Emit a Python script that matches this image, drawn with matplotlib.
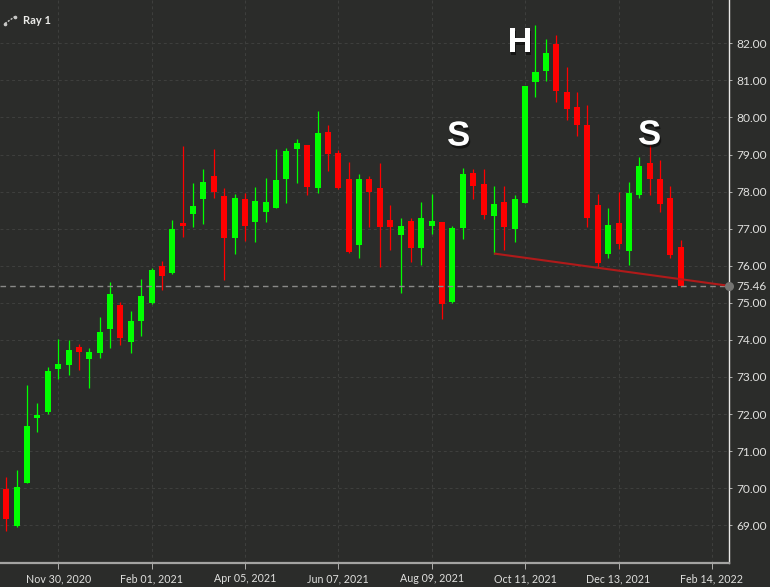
#!/usr/bin/env python3
"""Weekly candlestick chart with a head and shoulders ray."""

import matplotlib
matplotlib.use("Agg")
import matplotlib.patheffects as pe
import matplotlib.pyplot as plt
import numpy as np

BG = "#2b2c2a"
GRID = "#3f403e"
UP = "#00ff00"
DOWN = "#ff0000"
TEXT = "#e0e0de"

opens = [69.97, 68.97, 70.15, 71.89, 72.06, 73.21, 73.33, 73.80, 73.49, 73.65,
         74.28, 74.95, 73.95, 74.50, 74.99, 76.00, 75.80, 77.13, 77.39, 77.79,
         78.42, 77.88, 76.75, 77.80, 77.18, 77.46, 77.55, 78.33, 79.16, 79.26,
         78.09, 79.61, 79.03, 78.33, 76.55, 78.33, 78.09, 77.23, 76.82, 77.20,
         76.49, 77.06, 77.17, 75.01, 77.01, 78.50, 78.21, 77.33, 77.73, 76.99,
         77.68, 80.97, 81.25, 81.99, 80.68, 80.28, 79.80, 77.63, 76.32, 77.14,
         76.39, 77.90, 78.76, 78.35, 77.83, 76.50]
highs = [70.29, 70.48, 72.78, 72.30, 73.27, 74.03, 74.01, 73.88, 73.79, 74.62,
         75.56, 75.03, 74.79, 75.65, 75.94, 76.13, 77.23, 79.23, 78.22, 78.60,
         79.14, 78.11, 77.93, 77.95, 78.13, 78.38, 79.16, 79.19, 79.43, 79.26,
         80.18, 79.79, 79.12, 78.80, 78.47, 78.42, 78.76, 77.64, 77.28, 77.30,
         77.72, 77.93, 77.17, 77.07, 78.64, 78.62, 78.61, 78.16, 78.15, 77.91,
         80.85, 82.49, 82.11, 82.22, 81.35, 80.70, 80.34, 77.94, 77.57, 77.99,
         78.25, 78.94, 79.26, 78.85, 78.15, 76.69]
lows = [68.85, 68.96, 70.15, 71.51, 71.99, 72.95, 73.06, 73.20, 72.70, 73.51,
        73.79, 73.86, 73.65, 74.11, 74.97, 75.34, 75.78, 76.78, 77.05, 77.12,
        77.82, 75.62, 76.32, 76.67, 76.65, 77.17, 77.55, 77.70, 78.22, 77.91,
        77.97, 78.56, 78.08, 76.34, 76.21, 77.05, 75.97, 76.42, 75.27, 76.10,
        76.02, 76.87, 74.55, 75.00, 76.71, 77.79, 77.25, 76.33, 76.42, 76.65,
        77.68, 80.54, 80.99, 80.43, 79.93, 79.50, 77.04, 75.93, 76.22, 76.44,
        76.01, 77.82, 77.91, 77.46, 76.22, 75.44]
closes = [69.18, 70.02, 71.67, 71.97, 73.15, 73.36, 73.73, 73.68, 73.66, 74.20,
          75.24, 74.05, 74.51, 75.19, 75.89, 75.73, 76.98, 77.06, 77.62, 78.26,
          78.00, 76.75, 77.83, 77.08, 77.75, 77.71, 78.31, 79.10, 79.30, 78.13,
          79.59, 79.01, 78.11, 76.36, 78.34, 78.00, 77.05, 77.04, 77.08, 76.48,
          77.30, 77.21, 74.98, 77.01, 78.48, 78.16, 77.36, 77.66, 77.05, 77.79,
          80.84, 81.24, 81.73, 80.72, 80.22, 79.81, 77.29, 76.08, 77.09, 76.60,
          77.95, 78.70, 78.33, 77.67, 76.28, 75.45]

tick_pos = [5, 14, 23, 32, 41, 50, 59, 68]
tick_labels = ["Nov 30, 2020", "Feb 01, 2021", "Apr 05, 2021", "Jun 07, 2021",
               "Aug 09, 2021", "Oct 11, 2021", "Dec 13, 2021", "Feb 14, 2022"]
price_ticks = [69, 70, 71, 72, 73, 74, 75, 76, 77, 78, 79, 80, 81, 82]
last_price = 75.46
ray_x = [47, 69.6]
ray_y = [76.33, 75.46]
pattern_labels = [("H", 49.5, 82.02), ("S", 43.6, 79.50), ("S", 62.0, 79.53)]


def main():
    plt.rcParams["font.family"] = ["Lato", "DejaVu Sans"]
    fig = plt.figure(figsize=(7.7, 5.87), dpi=100, facecolor=BG)
    ax = fig.add_axes([0, 24 / 587, 728.5 / 770, 563 / 587], facecolor=BG)

    x = np.arange(len(opens))
    o, h, l, c = map(np.array, (opens, highs, lows, closes))
    colors = np.where(c >= o, UP, DOWN)

    ax.vlines(x, l, h, colors=colors, linewidth=0.9, zorder=3)
    ax.bar(x, np.maximum(np.abs(c - o), 0.08), bottom=np.minimum(o, c), width=0.58,
           color=colors, linewidth=0, zorder=3)

    ax.axhline(last_price, color="#8a8a88", linestyle=(0, (4, 3)), linewidth=1.0, zorder=4)
    ax.plot(ray_x, ray_y, color="#b01a1a", linewidth=1.5, zorder=5, solid_capstyle="butt")
    ax.plot([ray_x[1]], [ray_y[1]], "o", color="#757573", markersize=5.5, zorder=6, clip_on=False)

    for label, lx, ly in pattern_labels:
        ax.text(lx, ly, label, color="white", fontsize=25, fontweight="bold",
                family="Liberation Sans", ha="center", va="center", zorder=7,
                path_effects=[pe.withSimplePatchShadow(offset=(1, -2), shadow_rgbFace="black", alpha=0.5)])

    ax.set_xlim(-0.607, 69.6)
    ax.set_ylim(67.98, 83.17)
    ax.grid(True, color=GRID, linestyle=(0, (3, 3)), linewidth=0.7, zorder=0)
    ax.set_axisbelow(True)

    ax.set_xticks(tick_pos, tick_labels)
    ax.yaxis.tick_right()
    ax.set_yticks(price_ticks + [last_price],
                  [f"{p:.2f}" for p in price_ticks] + [f"{last_price:.2f}"])
    ax.get_ygridlines()[-1].set_visible(False)
    ax.tick_params(axis="x", colors=TEXT, labelsize=7.7, length=4, width=0.7, pad=3.5, color="#b0b0ae")
    ax.tick_params(axis="y", colors=TEXT, labelsize=8.6, length=2.5, width=0.7, pad=3, color="#b0b0ae")

    for side in ("top", "left"):
        ax.spines[side].set_visible(False)
    ax.spines["right"].set_color("#e8e8e6")
    ax.spines["right"].set_linewidth(1.0)
    ax.spines["bottom"].set_color("#a4a4a2")
    ax.spines["bottom"].set_linewidth(1.6)

    # legend entry for the ray, top left
    fig.text(23 / 770, 1 - 20 / 587, "Ray 1", color="#ecece9", fontsize=8, fontweight="bold",
             va="center", ha="left")
    fig.add_artist(plt.Line2D([5 / 770, 15 / 770], [1 - 23.5 / 587, 1 - 16.5 / 587], color="#c8c8c6",
                              linewidth=1.0, linestyle=(0, (1.5, 1)), marker="o", markersize=1.6,
                              markevery=1))

    fig.savefig("out.png", dpi=100, facecolor=BG)


if __name__ == "__main__":
    main()
